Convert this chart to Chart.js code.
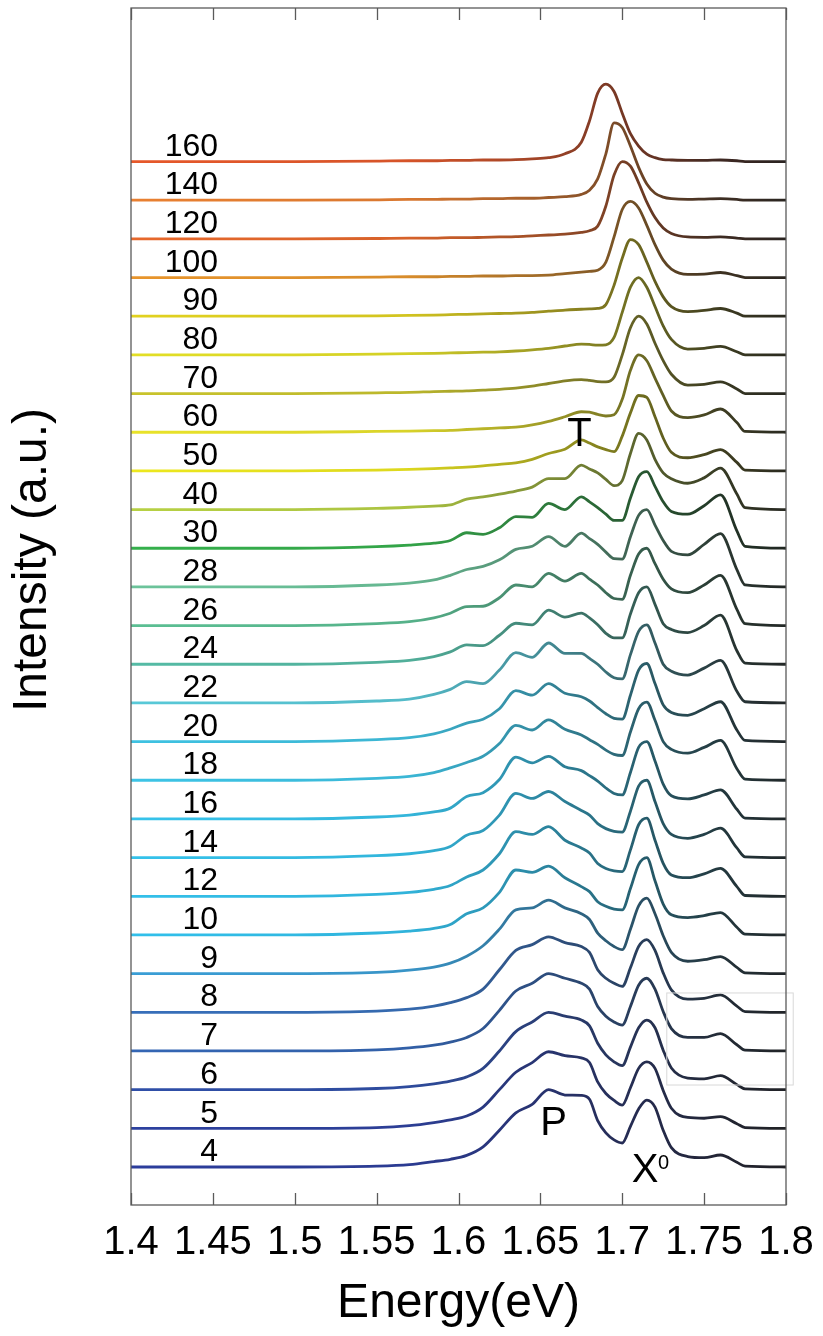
<!DOCTYPE html>
<html>
<head>
<meta charset="utf-8">
<script src="https://cdn.jsdelivr.net/npm/chart.js@4.4.1/dist/chart.umd.min.js"></script>
<style>
  html, body { margin: 0; padding: 0; background: #fff; }
</style>
</head>
<body>
<canvas id="spectra" width="823" height="1336"></canvas>
<script>
// photon energy grid (eV), shared by every spectrum
var energy = [1.40, 1.50, 1.55, 1.57, 1.585, 1.595, 1.605, 1.615, 1.625, 1.635, 1.645, 1.655, 1.665, 1.675, 1.68, 1.685,
  1.69, 1.695, 1.70, 1.705, 1.71, 1.715, 1.72, 1.725, 1.73, 1.74, 1.75, 1.76, 1.77, 1.775, 1.80];

// curve labels, bottom to top
var temps = ['4', '5', '6', '7', '8', '9', '10', '12', '14', '16', '18', '20', '22', '24', '26', '28', '30',
  '40', '50', '60', '70', '80', '90', '100', '120', '140', '160'];

// PL intensity of each curve (a.u., spacing between curves = 1)
var s4   = [0, 0, 0.02, 0.06, 0.14, 0.2, 0.3, 0.52, 0.95, 1.4, 1.62, 2.0, 1.86, 1.85, 1.75, 1.2, 0.88, 0.7, 0.62, 1.05, 1.5, 1.73, 1.55, 0.95, 0.5, 0.27, 0.24, 0.31, 0.12, 0.02, 0];
var s5   = [0, 0, 0.02, 0.07, 0.15, 0.22, 0.32, 0.55, 1.0, 1.45, 1.7, 1.98, 1.88, 1.82, 1.7, 1.2, 0.9, 0.72, 0.6, 1.05, 1.55, 1.72, 1.55, 0.98, 0.52, 0.28, 0.26, 0.3, 0.12, 0.02, 0];
var s6   = [0, 0, 0.03, 0.08, 0.15, 0.22, 0.33, 0.55, 1.0, 1.5, 1.75, 2.0, 1.9, 1.8, 1.65, 1.2, 0.9, 0.72, 0.62, 1.1, 1.6, 1.8, 1.6, 1.02, 0.56, 0.3, 0.28, 0.36, 0.13, 0.02, 0];
var s7   = [0, 0, 0.03, 0.08, 0.15, 0.23, 0.35, 0.58, 1.05, 1.55, 1.75, 2.0, 1.88, 1.75, 1.6, 1.15, 0.9, 0.75, 0.67, 1.15, 1.7, 1.88, 1.6, 1.02, 0.58, 0.35, 0.35, 0.45, 0.16, 0.02, 0];
var s8   = [0, 0, 0.03, 0.08, 0.16, 0.25, 0.38, 0.6, 1.1, 1.6, 1.75, 1.95, 1.8, 1.7, 1.55, 1.1, 0.88, 0.75, 0.67, 1.15, 1.7, 1.88, 1.6, 1.02, 0.58, 0.34, 0.36, 0.45, 0.16, 0.02, 0];
var s9   = [0, 0, 0.03, 0.09, 0.17, 0.27, 0.45, 0.72, 1.15, 1.65, 1.7, 1.9, 1.7, 1.55, 1.4, 1.05, 0.85, 0.7, 0.62, 1.15, 1.75, 1.95, 1.55, 0.98, 0.55, 0.32, 0.36, 0.44, 0.16, 0.02, 0];
var s10  = [0, 0, 0.05, 0.1, 0.17, 0.27, 0.55, 0.7, 1.1, 1.68, 1.62, 1.78, 1.48, 1.25, 1.12, 0.86, 0.74, 0.67, 0.65, 1.2, 1.82, 2.0, 1.4, 0.8, 0.52, 0.45, 0.5, 0.58, 0.2, 0.02, 0];
var s12  = [0, 0, 0.05, 0.1, 0.18, 0.28, 0.5, 0.68, 1.1, 1.67, 1.6, 1.8, 1.45, 1.25, 1.12, 0.85, 0.72, 0.66, 0.64, 1.2, 1.85, 2.02, 1.45, 0.85, 0.55, 0.48, 0.58, 0.72, 0.25, 0.02, 0];
var s14  = [0, 0, 0.05, 0.1, 0.18, 0.29, 0.58, 0.7, 1.1, 1.66, 1.53, 1.71, 1.45, 1.22, 1.1, 0.88, 0.75, 0.68, 0.66, 1.2, 1.85, 2.0, 1.45, 0.88, 0.6, 0.5, 0.6, 0.76, 0.25, 0.02, 0];
var s16  = [0, 0, 0.05, 0.1, 0.18, 0.28, 0.58, 0.68, 1.02, 1.6, 1.45, 1.62, 1.35, 1.25, 1.12, 0.98, 0.8, 0.66, 0.62, 1.2, 1.85, 2.0, 1.5, 0.9, 0.6, 0.52, 0.62, 0.75, 0.25, 0.02, 0];
var s18  = [0, 0, 0.05, 0.1, 0.2, 0.32, 0.46, 0.62, 0.95, 1.42, 1.3, 1.56, 1.32, 1.17, 1.05, 0.93, 0.78, 0.67, 0.64, 1.25, 1.85, 2.02, 1.55, 1.0, 0.8, 0.7, 0.85, 1.03, 0.3, 0.03, 0];
var s20  = [0, 0, 0.05, 0.1, 0.2, 0.32, 0.48, 0.58, 0.85, 1.32, 1.2, 1.5, 1.25, 1.16, 1.05, 0.88, 0.72, 0.6, 0.58, 1.2, 1.85, 2.02, 1.5, 0.95, 0.75, 0.68, 0.85, 1.03, 0.3, 0.03, 0];
var s22  = [0, 0, 0.05, 0.1, 0.22, 0.35, 0.55, 0.5, 0.85, 1.3, 1.18, 1.55, 1.28, 1.28, 1.15, 1.0, 0.8, 0.65, 0.62, 1.25, 1.85, 2.02, 1.55, 1.0, 0.82, 0.72, 0.9, 1.1, 0.3, 0.03, 0];
var s24  = [0, 0, 0.05, 0.1, 0.2, 0.32, 0.5, 0.48, 0.75, 1.06, 1.02, 1.4, 1.22, 1.32, 1.2, 1.02, 0.8, 0.68, 0.68, 1.3, 1.85, 2.0, 1.55, 1.05, 0.9, 0.82, 1.0, 1.27, 0.35, 0.03, 0];
var s26  = [0, 0, 0.05, 0.1, 0.2, 0.32, 0.49, 0.5, 0.72, 1.05, 1.0, 1.35, 1.15, 1.35, 1.2, 1.05, 0.85, 0.7, 0.68, 1.3, 1.85, 2.0, 1.6, 1.2, 0.95, 0.85, 1.05, 1.3, 0.42, 0.05, 0];
var s28  = [0, 0, 0.05, 0.1, 0.18, 0.3, 0.45, 0.53, 0.7, 0.97, 1.05, 1.3, 1.05, 1.39, 1.25, 1.1, 0.9, 0.73, 0.72, 1.3, 1.85, 2.0, 1.6, 1.2, 0.92, 0.83, 1.1, 1.38, 0.45, 0.05, 0];
var s30  = [0, 0, 0.04, 0.08, 0.13, 0.2, 0.4, 0.36, 0.53, 0.82, 0.8, 1.16, 1.0, 1.33, 1.2, 1.05, 0.88, 0.72, 0.72, 1.3, 1.85, 1.98, 1.6, 1.2, 0.95, 0.88, 1.1, 1.38, 0.45, 0.05, 0];
var s40  = [0, 0, 0.03, 0.06, 0.09, 0.12, 0.27, 0.33, 0.4, 0.48, 0.58, 0.8, 0.8, 1.15, 1.05, 0.95, 0.78, 0.62, 0.75, 1.45, 1.97, 1.8, 1.3, 0.95, 0.8, 0.68, 0.82, 1.07, 0.4, 0.05, 0];
var s50  = [0, 0, 0.02, 0.04, 0.06, 0.08, 0.1, 0.13, 0.17, 0.21, 0.3, 0.45, 0.56, 0.8, 0.72, 0.62, 0.55, 0.5, 0.9, 1.5, 1.95, 1.9, 1.4, 0.85, 0.48, 0.34, 0.42, 0.55, 0.22, 0.02, 0];
var s60  = [0, 0, 0.02, 0.03, 0.04, 0.05, 0.07, 0.09, 0.11, 0.13, 0.19, 0.28, 0.4, 0.53, 0.52, 0.46, 0.42, 0.45, 0.85, 1.6, 2.0, 1.85, 1.4, 0.95, 0.55, 0.38, 0.45, 0.6, 0.25, 0.02, 0];
var s70  = [0, 0, 0.02, 0.03, 0.05, 0.06, 0.07, 0.09, 0.11, 0.14, 0.19, 0.26, 0.33, 0.36, 0.34, 0.31, 0.3, 0.42, 1.0, 1.7, 2.0, 1.8, 1.3, 0.85, 0.5, 0.22, 0.24, 0.3, 0.12, 0, 0];
var s80  = [0, 0, 0.02, 0.03, 0.04, 0.05, 0.06, 0.07, 0.08, 0.1, 0.13, 0.17, 0.23, 0.28, 0.27, 0.25, 0.26, 0.45, 1.1, 1.75, 2.0, 1.75, 1.25, 0.75, 0.4, 0.15, 0.17, 0.22, 0.08, 0, 0];
var s90  = [0, 0, 0.01, 0.02, 0.03, 0.04, 0.05, 0.06, 0.07, 0.08, 0.1, 0.13, 0.16, 0.18, 0.19, 0.2, 0.3, 0.8, 1.5, 1.98, 1.85, 1.4, 0.9, 0.5, 0.25, 0.12, 0.15, 0.2, 0.08, 0, 0];
var s100 = [0, 0, 0.01, 0.02, 0.02, 0.03, 0.03, 0.04, 0.04, 0.05, 0.05, 0.06, 0.1, 0.14, 0.16, 0.19, 0.4, 1.05, 1.76, 1.97, 1.8, 1.35, 0.85, 0.45, 0.22, 0.08, 0.09, 0.13, 0.05, 0, 0];
var s120 = [0, 0, 0.01, 0.02, 0.02, 0.03, 0.03, 0.04, 0.05, 0.06, 0.08, 0.1, 0.12, 0.17, 0.21, 0.33, 0.85, 1.65, 2.0, 1.88, 1.45, 0.95, 0.55, 0.28, 0.14, 0.05, 0.04, 0.05, 0.02, 0, 0];
var s140 = [0, 0, 0.01, 0.02, 0.02, 0.03, 0.03, 0.04, 0.04, 0.05, 0.05, 0.07, 0.09, 0.15, 0.26, 0.55, 1.2, 2.0, 1.88, 1.4, 0.85, 0.42, 0.18, 0.08, 0.04, 0.02, 0.03, 0.04, 0.02, 0, 0];
var s160 = [0, 0, 0.01, 0.02, 0.02, 0.03, 0.03, 0.04, 0.04, 0.05, 0.07, 0.1, 0.2, 0.5, 1.05, 1.77, 2.0, 1.81, 1.25, 0.72, 0.4, 0.19, 0.1, 0.05, 0.04, 0.03, 0.03, 0.04, 0.02, 0, 0];

var spectra = [s4, s5, s6, s7, s8, s9, s10, s12, s14, s16, s18, s20, s22, s24, s26, s28, s30,
  s40, s50, s60, s70, s80, s90, s100, s120, s140, s160];

// colour of each curve at its low-energy end; all fade to near black on the right
var startColors = ['#2c3d9c', '#2d419f', '#2f4fa8', '#3466b4', '#376fba', '#3a9ed6', '#31c0eb', '#33c0ea', '#34c2eb',
  '#36c3eb', '#3dc4e6', '#3ec2e2', '#58c9d8', '#55bba5', '#5bbf93', '#6cc49b', '#35b04c', '#b7d144', '#ede81e',
  '#e9e32a', '#c9c42c', '#e3df26', '#e2d21f', '#e8952c', '#e7682b', '#e98031', '#e6582a'];

var xTicks = [1.4, 1.45, 1.5, 1.55, 1.6, 1.65, 1.7, 1.75, 1.8];

var FONT = '"Liberation Sans", Arial, Helvetica, sans-serif';

function hexRgb(h) {
  return [parseInt(h.substr(1, 2), 16), parseInt(h.substr(3, 2), 16), parseInt(h.substr(5, 2), 16)];
}
function mix(h, t) {
  var a = hexRgb(h), d = [32, 32, 32];
  var r = a.map(function(v, i) { return Math.round(v + (d[i] - v) * t); });
  return 'rgb(' + r.join(',') + ')';
}

function gradientFor(col) {
  var cache = null;
  return function(ctx) {
    var area = ctx.chart.chartArea;
    if (!area) return col;
    if (cache && cache.l === area.left && cache.r === area.right) return cache.g;
    var g = ctx.chart.ctx.createLinearGradient(area.left, 0, area.right, 0);
    g.addColorStop(0, mix(col, 0));
    g.addColorStop(0.42, mix(col, 0.08));
    g.addColorStop(0.62, mix(col, 0.35));
    g.addColorStop(0.78, mix(col, 0.62));
    g.addColorStop(0.9, mix(col, 0.85));
    g.addColorStop(1, mix(col, 0.95));
    cache = { l: area.left, r: area.right, g: g };
    return g;
  };
}

var datasets = spectra.map(function(vals, k) {
  return {
    label: temps[k],
    data: energy.map(function(e, i) { return { x: e, y: vals[i] + k }; }),
    borderColor: gradientFor(startColors[k]),
    borderWidth: 2.8,
    pointRadius: 0,
    fill: false,
    cubicInterpolationMode: 'monotone'
  };
});

var decor = {
  id: 'decor',
  afterDatasetsDraw: function(chart) {
    var c = chart.ctx, a = chart.chartArea, xs = chart.scales.x, ys = chart.scales.y;
    c.save();
    // faint inset frame
    c.strokeStyle = '#d8d8d8';
    c.lineWidth = 1;
    var ix0 = xs.getPixelForValue(1.7272), ix1 = xs.getPixelForValue(1.8044);
    var iy0 = ys.getPixelForValue(4.5), iy1 = ys.getPixelForValue(2.12);
    c.strokeRect(ix0, iy0, ix1 - ix0, iy1 - iy0);
    // axes box with inward ticks
    c.strokeStyle = '#5a5a5a';
    c.lineWidth = 1.3;
    c.strokeRect(a.left, a.top, a.right - a.left, a.bottom - a.top);
    c.beginPath();
    xTicks.forEach(function(v) {
      var px = Math.round(xs.getPixelForValue(v)) + 0.5;
      c.moveTo(px, a.bottom); c.lineTo(px, a.bottom - 12);
      c.moveTo(px, a.top); c.lineTo(px, a.top + 12);
    });
    c.stroke();
    // curve labels
    c.fillStyle = '#000';
    c.font = '32px ' + FONT;
    c.textAlign = 'right';
    c.textBaseline = 'alphabetic';
    temps.forEach(function(t, k) {
      c.fillText(t, xs.getPixelForValue(1.4532), ys.getPixelForValue(k + 0.15));
    });
    // peak names
    c.font = '40px ' + FONT;
    c.textAlign = 'center';
    c.textBaseline = 'middle';
    c.fillText('P', xs.getPixelForValue(1.658), ys.getPixelForValue(1.1));
    c.fillText('T', xs.getPixelForValue(1.6739), ys.getPixelForValue(18.93));
    c.fillText('X', xs.getPixelForValue(1.7139), ys.getPixelForValue(-0.1));
    c.font = '20px ' + FONT;
    c.fillText('0', xs.getPixelForValue(1.7252), ys.getPixelForValue(0.1));
    // y-axis title
    c.font = '48px ' + FONT;
    c.translate(33, 560);
    c.rotate(-Math.PI / 2);
    c.fillText('Intensity (a.u.)', 0, 0);
    c.restore();
  }
};

new Chart(document.getElementById('spectra'), {
  type: 'line',
  data: { datasets: datasets },
  options: {
    responsive: false,
    animation: false,
    layout: { padding: { top: 8, right: 37, left: 0, bottom: 0 } },
    plugins: { legend: { display: false }, tooltip: { enabled: false } },
    scales: {
      x: {
        type: 'linear',
        min: 1.4,
        max: 1.8,
        afterFit: function(s) { s.height = 131; },
        afterBuildTicks: function(s) { s.ticks = xTicks.map(function(v) { return { value: v }; }); },
        grid: { display: false, drawTicks: true, tickLength: 14 },
        border: { display: false },
        ticks: {
          autoSkip: false,
          maxRotation: 0,
          padding: 0,
          color: '#000',
          font: { family: FONT, size: 40 },
          callback: function(v) { return String(Math.round(v * 100) / 100); }
        },
        title: {
          display: true,
          text: 'Energy(eV)',
          color: '#000',
          font: { family: FONT, size: 48 },
          padding: { top: 0, bottom: 3 }
        }
      },
      y: {
        min: -0.983,
        max: 29.97,
        afterFit: function(s) { s.width = 131; },
        grid: { display: false, drawTicks: false },
        border: { display: false },
        ticks: { display: false }
      }
    }
  },
  plugins: [decor]
});
</script>
</body>
</html>
